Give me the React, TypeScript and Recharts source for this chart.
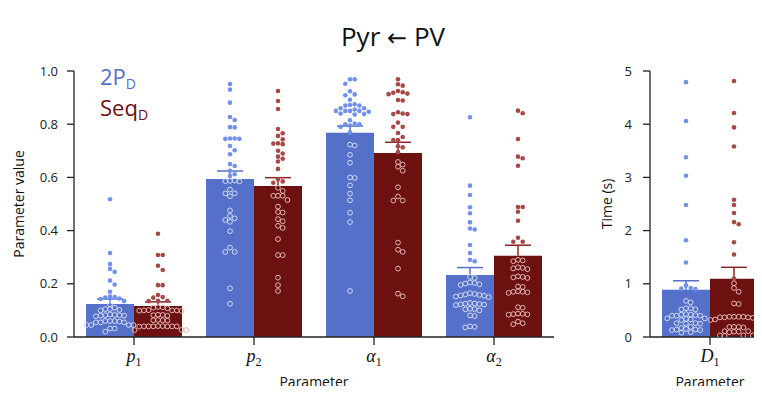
import React from 'react';
import { ComposedChart, Bar, Scatter, XAxis, YAxis, Legend } from 'recharts';

// left panel: parameter values
const categories = ['p1', 'p2', 'α1', 'α2'];
const blueMeans = [0.124, 0.594, 0.768, 0.233];
const redMeans = [0.117, 0.568, 0.692, 0.305];
const blueSem = [0.019, 0.03, 0.025, 0.028];
const redSem = [0.015, 0.031, 0.04, 0.04];
const valueTicks = [0, 0.2, 0.4, 0.6, 0.8, 1.0];

// right panel: time parameter
const timeCategories = ['D1'];
const timeBlueMeans = [0.887];
const timeRedMeans = [1.094];
const timeBlueSem = [0.17];
const timeRedSem = [0.216];
const timeTicks = [0, 1, 2, 3, 4, 5];

// individual fits
const p1Blue = [0.518, 0.316, 0.274, 0.256, 0.245, 0.212, 0.197, 0.17, 0.152, 0.148, 0.145, 0.143, 0.15, 0.135, 0.123, 0.11, 0.105, 0.105, 0.1, 0.102, 0.085, 0.082, 0.08, 0.083, 0.078, 0.082, 0.08, 0.06, 0.055, 0.06, 0.055, 0.06, 0.055, 0.058, 0.045, 0.045, 0.045, 0.045, 0.032, 0.032, 0.02];
const p1Red = [0.388, 0.308, 0.308, 0.268, 0.252, 0.195, 0.195, 0.158, 0.148, 0.15, 0.135, 0.136, 0.136, 0.113, 0.11, 0.112, 0.108, 0.1, 0.1, 0.098, 0.101, 0.1, 0.099, 0.083, 0.082, 0.084, 0.08, 0.063, 0.062, 0.064, 0.063, 0.04, 0.04, 0.041, 0.04, 0.04, 0.039, 0.04, 0.041, 0.04, 0.026, 0.026, 0.027];
const p2Blue = [0.951, 0.93, 0.881, 0.827, 0.816, 0.789, 0.788, 0.746, 0.745, 0.746, 0.745, 0.718, 0.702, 0.687, 0.65, 0.643, 0.625, 0.612, 0.605, 0.587, 0.585, 0.588, 0.586, 0.554, 0.54, 0.54, 0.529, 0.476, 0.455, 0.446, 0.44, 0.433, 0.398, 0.336, 0.32, 0.32, 0.183, 0.125];
const p2Red = [0.925, 0.887, 0.857, 0.782, 0.766, 0.756, 0.743, 0.727, 0.725, 0.728, 0.7, 0.69, 0.678, 0.67, 0.66, 0.632, 0.593, 0.585, 0.58, 0.561, 0.549, 0.531, 0.531, 0.531, 0.515, 0.49, 0.47, 0.468, 0.443, 0.435, 0.418, 0.41, 0.368, 0.308, 0.308, 0.223, 0.195, 0.173];
const a1Blue = [0.969, 0.969, 0.952, 0.924, 0.912, 0.909, 0.892, 0.875, 0.872, 0.86, 0.87, 0.86, 0.87, 0.85, 0.855, 0.85, 0.847, 0.85, 0.85, 0.838, 0.836, 0.84, 0.815, 0.8, 0.8, 0.802, 0.79, 0.795, 0.77, 0.723, 0.72, 0.685, 0.655, 0.6, 0.598, 0.57, 0.539, 0.514, 0.467, 0.432, 0.173];
const a1Red = [0.969, 0.95, 0.945, 0.925, 0.915, 0.913, 0.918, 0.92, 0.891, 0.889, 0.845, 0.838, 0.838, 0.84, 0.806, 0.79, 0.79, 0.767, 0.752, 0.74, 0.74, 0.717, 0.713, 0.695, 0.658, 0.648, 0.64, 0.625, 0.563, 0.528, 0.513, 0.513, 0.355, 0.328, 0.32, 0.257, 0.163, 0.153];
const a2Blue = [0.826, 0.569, 0.534, 0.488, 0.465, 0.431, 0.408, 0.404, 0.346, 0.316, 0.29, 0.285, 0.226, 0.222, 0.205, 0.203, 0.201, 0.198, 0.196, 0.165, 0.162, 0.16, 0.158, 0.156, 0.155, 0.152, 0.15, 0.128, 0.126, 0.125, 0.124, 0.123, 0.122, 0.12, 0.106, 0.105, 0.104, 0.1, 0.081, 0.079, 0.04, 0.038, 0.036];
const a2Red = [0.851, 0.841, 0.744, 0.678, 0.672, 0.644, 0.489, 0.489, 0.471, 0.437, 0.373, 0.358, 0.358, 0.29, 0.288, 0.285, 0.262, 0.26, 0.258, 0.255, 0.228, 0.226, 0.224, 0.222, 0.19, 0.188, 0.172, 0.17, 0.17, 0.168, 0.166, 0.112, 0.11, 0.088, 0.087, 0.086, 0.085, 0.084, 0.058, 0.052, 0.048];
const d1Blue = [4.79, 4.06, 3.38, 3.03, 2.48, 1.82, 1.4, 0.97, 0.91, 0.9, 0.92, 0.68, 0.65, 0.54, 0.52, 0.52, 0.54, 0.42, 0.4, 0.42, 0.4, 0.43, 0.4, 0.41, 0.34, 0.35, 0.32, 0.33, 0.35, 0.26, 0.25, 0.25, 0.26, 0.17, 0.14, 0.13, 0.14, 0.13, 0.15, 0.19, 0.08, 0.09];
const d1Red = [4.81, 4.21, 3.94, 3.58, 2.58, 2.48, 2.33, 2.16, 2.12, 1.78, 1.55, 1.1, 1.01, 0.92, 0.85, 0.63, 0.62, 0.38, 0.37, 0.38, 0.37, 0.38, 0.36, 0.37, 0.38, 0.33, 0.32, 0.33, 0.32, 0.19, 0.19, 0.18, 0.19, 0.11, 0.1, 0.09, 0.1, 0.11, 0.03, 0.03, 0.02, 0.03];

const blueGroups = [p1Blue, p2Blue, a1Blue, a2Blue];
const redGroups = [p1Red, p2Red, a1Red, a2Red];

const BLUE = '#5470c8';
const RED = '#6c1010';
const BLUE_DOT = '#7191ea';
const RED_DOT = '#a84848';
const BLUE_RING = '#d2daf6';
const RED_RING = '#e2b6b6';
const RED_ERR = '#8a2626';
const INK = '#222';
const SANS = '"Open Sans", sans-serif';
const SERIF = '"Liberation Serif", serif';

// layout
const H = 394;
const TOP = 71;
const XAXIS_H = 57;
const PLOT_H = H - TOP - XAXIS_H;
const BAND = 120;
const GAP = 0.1;
const seriesCenter = [GAP + (1 - 2 * GAP) / 4, 1 - GAP - (1 - 2 * GAP) / 4];

// simple greedy beeswarm, offsets in px
function swarm(values: number[], pxPerUnit: number, d = 4.7, step = 4.7) {
  const order = values.map((_, i) => i).sort((a, b) => values[b] - values[a]);
  const placed: { x: number; y: number }[] = [];
  const out = new Array(values.length).fill(0);
  for (const i of order) {
    const y = values[i] * pxPerUnit;
    for (let n = 0; n < 200; n++) {
      const k = n === 0 ? 0 : n % 2 === 1 ? (n + 1) / 2 : -n / 2;
      const x = k * step;
      if (placed.every((p) => (p.x - x) ** 2 + (p.y - y) ** 2 >= d * d - 1e-6)) {
        out[i] = x;
        placed.push({ x, y });
        break;
      }
    }
  }
  return out;
}

function makePoints(groups: number[][], means: number[], series: number, yMax: number) {
  const pts: { x: number; y: number; filled: boolean }[] = [];
  groups.forEach((vals, ci) => {
    const offs = swarm(vals, PLOT_H / yMax);
    vals.forEach((v, j) => {
      pts.push({ x: ci + seriesCenter[series] + offs[j] / BAND, y: v, filled: v > means[ci] });
    });
  });
  return pts;
}

const leftBars = categories.map((c, i) => ({
  name: c,
  blue: blueMeans[i],
  red: redMeans[i],
  blueErr: blueSem[i],
  redErr: redSem[i],
}));
const rightBars = timeCategories.map((c, i) => ({
  name: c,
  blue: timeBlueMeans[i],
  red: timeRedMeans[i],
  blueErr: timeBlueSem[i],
  redErr: timeRedSem[i],
}));

const leftBluePts = makePoints(blueGroups, blueMeans, 0, 1);
const leftRedPts = makePoints(redGroups, redMeans, 1, 1);
const rightBluePts = makePoints([d1Blue], timeBlueMeans, 0, 5);
const rightRedPts = makePoints([d1Red], timeRedMeans, 1, 5);

const dotShape = (fill: string, ring: string) => (props: any) => {
  const { cx, cy, payload } = props;
  if (payload.filled) return <circle cx={cx} cy={cy} r={2.3} fill={fill} />;
  return <circle cx={cx} cy={cy} r={2.4} fill="none" stroke={ring} strokeWidth={1} />;
};

// upper-only SEM whisker, drawn as the top segment of a stack
const errShape = (color: string) => (props: any) => {
  const { x, y, width, height } = props;
  if (x == null || y == null) return null;
  const cx = x + width / 2;
  return (
    <g>
      <line x1={cx} x2={cx} y1={y} y2={y + height} stroke={color} strokeWidth={1.5} />
      <line x1={cx - 13} x2={cx + 13} y1={y} y2={y} stroke={color} strokeWidth={1.5} />
    </g>
  );
};

const MathTick = (props: any) => {
  const { x, y, payload } = props;
  const s: string = payload.value;
  return (
    <text x={x} y={y + 15} textAnchor="middle" fontFamily={SERIF} fontSize={18} fill="#111">
      <tspan fontStyle="italic">{s[0]}</tspan>
      <tspan fontSize={12} dy={4}>{s.slice(1)}</tspan>
    </text>
  );
};

const yLabel = (text: string, x: number) => ({
  content: (props: any) => {
    const vb = props.viewBox || { y: TOP, height: PLOT_H };
    const cy = vb.y + vb.height / 2;
    return (
      <text x={x} y={cy} transform={`rotate(-90 ${x} ${cy})`} textAnchor="middle" dominantBaseline="central"
        fontFamily={SANS} fontSize={14} fill="#111">
        {text}
      </text>
    );
  },
});

const xLabel = { value: 'Parameter', position: 'insideBottom' as const, offset: 7, fontFamily: SANS, fontSize: 14, fill: '#111' };

const axisStroke = { stroke: INK, strokeWidth: 1.3 };

const LegendBox = () => (
  <div style={{ fontFamily: SANS, fontSize: 22, lineHeight: '31px', whiteSpace: 'nowrap' }}>
    <div style={{ color: BLUE }}>
      2P<span style={{ fontSize: 14, verticalAlign: '-4px', lineHeight: 0 }}>D</span>
    </div>
    <div style={{ color: RED }}>
      Seq<span style={{ fontSize: 14, verticalAlign: '-4px', lineHeight: 0 }}>D</span>
    </div>
  </div>
);

const PanelBody = (
  bluePts: any[],
  redPts: any[],
  nCat: number,
  yMax: number,
  ticks: number[],
  fmt: (v: number) => string,
  yAxisWidth: number,
  tickMargin: number,
  label: any,
) => [
  <XAxis key="xc" xAxisId="cat" dataKey="name" tick={<MathTick />} tickSize={8} axisLine={axisStroke} tickLine={axisStroke} height={XAXIS_H} label={xLabel} interval={0} />,
  <XAxis key="xn" xAxisId="num" type="number" dataKey="x" domain={[0, nCat]} hide allowDataOverflow />,
  <YAxis key="y" domain={[0, yMax]} ticks={ticks} interval={0} tickFormatter={fmt} width={yAxisWidth} tickSize={7} tickMargin={tickMargin}
    axisLine={axisStroke} tickLine={axisStroke} tick={{ fill: INK, fontSize: 13, fontFamily: SANS }} label={label} allowDataOverflow />,
  <Bar key="bb" xAxisId="cat" dataKey="blue" stackId="b" fill={BLUE} isAnimationActive={false} />,
  <Bar key="be" xAxisId="cat" dataKey="blueErr" stackId="b" fill="none" shape={errShape(BLUE)} isAnimationActive={false} />,
  <Bar key="br" xAxisId="cat" dataKey="red" stackId="r" fill={RED} isAnimationActive={false} />,
  <Bar key="re" xAxisId="cat" dataKey="redErr" stackId="r" fill="none" shape={errShape(RED_ERR)} isAnimationActive={false} />,
  <Scatter key="sb" xAxisId="num" data={bluePts} dataKey="y" shape={dotShape(BLUE_DOT, BLUE_RING)} isAnimationActive={false} />,
  <Scatter key="sr" xAxisId="num" data={redPts} dataKey="y" shape={dotShape(RED_DOT, RED_RING)} isAnimationActive={false} />,
];

export default function App() {
  return (
    <div style={{ position: 'relative', width: 762, height: H, margin: -8, overflow: 'hidden', background: '#fff', fontFamily: SANS }}>
      <div style={{ position: 'absolute', left: 0, top: 21, width: 786, textAlign: 'center', fontSize: 26, lineHeight: '30px', color: '#111' }}>
        Pyr <span style={{ fontFamily: '"DejaVu Sans", sans-serif', fontSize: 24 }}>←</span> PV
      </div>
      <div style={{ position: 'absolute', left: 0, top: 0 }}>
        <ComposedChart width={600} height={H} data={leftBars} margin={{ top: TOP, right: 46, left: 0, bottom: 0 }} barCategoryGap="10%" barGap={0}>
          {PanelBody(leftBluePts, leftRedPts, categories.length, 1, valueTicks, (v) => v.toFixed(1), 74, 9, yLabel('Parameter value', 18))}
          <Legend layout="vertical" align="center" verticalAlign="middle" wrapperStyle={{ left: 100, top: 61, width: 'auto', height: 'auto' }} content={() => <LegendBox />} />
        </ComposedChart>
      </div>
      <div style={{ position: 'absolute', left: 560, top: 0 }}>
        <ComposedChart width={220} height={H} data={rightBars} margin={{ top: TOP, right: 10, left: 0, bottom: 0 }} barCategoryGap="10%" barGap={0}>
          {PanelBody(rightBluePts, rightRedPts, timeCategories.length, 5, timeTicks, (v) => String(v), 90, 11, yLabel('Time (s)', 46))}
        </ComposedChart>
      </div>
    </div>
  );
}
